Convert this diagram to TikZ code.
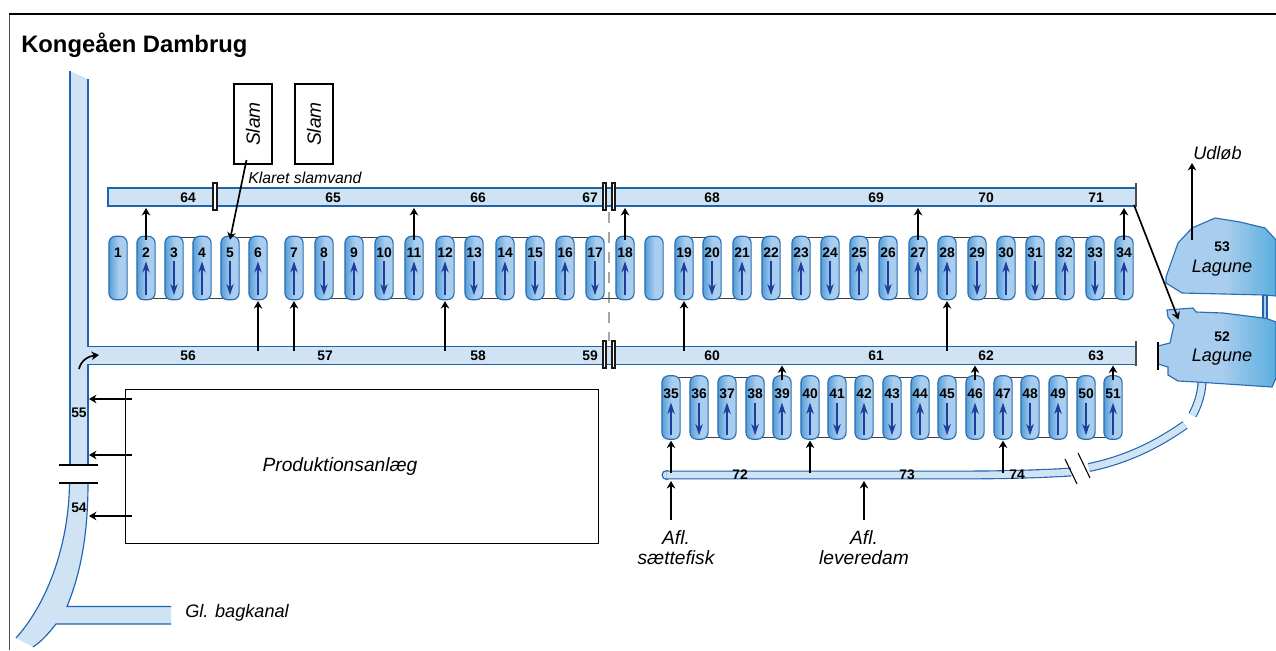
\documentclass[tikz,border=0pt]{standalone}
\usepackage{fontspec}
\setmainfont{Liberation Sans}
\usetikzlibrary{arrows.meta,backgrounds,calc}
\definecolor{canalfill}{HTML}{CFE3F4}
\definecolor{canalline}{HTML}{1F62AE}
\definecolor{pondline}{HTML}{2A6DB0}
\definecolor{pondmid}{HTML}{A9CDEE}
\definecolor{ponddark}{HTML}{559FDA}
\definecolor{lagdark}{HTML}{5AAEDF}
\definecolor{flowblue}{HTML}{1D3F9C}
\pgfdeclarehorizontalshading{pondshade}{100bp}{color(0bp)=(ponddark); color(25bp)=(ponddark); color(52bp)=(pondmid); color(100bp)=(pondmid)}
\pgfdeclarehorizontalshading{lagshade}{100bp}{color(0bp)=(pondmid); color(52bp)=(pondmid); color(75bp)=(lagdark); color(100bp)=(lagdark)}
\newcommand{\numfont}{\fontsize{10.4pt}{11pt}\selectfont\bfseries}
\newcommand{\itfont}{\fontsize{14.4pt}{15pt}\selectfont\itshape}
\newcommand{\itsmall}{\fontsize{13.6pt}{15pt}\selectfont\itshape}
\tikzset{
  pond/.style={draw=pondline,line width=0.85pt,shading=pondshade,rounded corners=5pt,minimum width=13.6pt,minimum height=47.6pt,inner sep=0pt},
  num/.style={inner sep=0pt,font=\numfont,text height=7.4pt,text depth=0pt},
  ital/.style={inner sep=0pt,font=\itfont,align=center},
  itals/.style={inner sep=0pt,font=\itsmall,align=center},
  canal/.style={fill=canalfill,draw=none},
  bank/.style={draw=canalline,line width=0.85pt},
  flow/.style={draw=black,line width=1.25pt,-{Stealth[length=5.6pt,width=6.4pt]}},
  bup/.style={{Stealth[length=8.5pt,width=5.6pt]}-},
  bdown/.style={-{Stealth[length=8.5pt,width=5.6pt]}},
  blueflow/.style={draw=flowblue,fill=flowblue,line width=0.9pt},
  link/.style={draw=black!75,line width=0.8pt},
  cut/.style={draw=black,line width=0.8pt},
  dbl/.style={draw=black!90,fill=white,line width=0.9pt},
  box/.style={draw=black,line width=0.85pt,fill=none},
  pipe/.style={draw=canalline,line width=0.85pt,double=canalfill,double distance=5pt},
  lagoon/.style={draw=pondline,line width=0.85pt,shading=lagshade},
}
\begin{document}
\begin{tikzpicture}[x=0.75pt,y=-0.75pt]
\useasboundingbox (0,0) rectangle (1276,650);
% frame
\draw[black!70,line width=1.3pt] (9.5,650) -- (9.5,14);
\draw[black,line width=1pt] (9,14) -- (1276,14);
\node[anchor=west,inner sep=0pt,font=\fontsize{17.85pt}{20pt}\selectfont\bfseries] (title) at (21,45) {Kongeåen Dambrug};

% water: main feeder
\fill[canal] (69.5,71) -- (88,79) -- (88,346.5) -- (1136,346.5) -- (1136,364.5) -- (88,364.5) -- (88,465) -- (69.5,465) -- cycle;
\fill[canal] (69.5,483) .. controls (69,540) and (50,600) .. (16,638) -- (33,647) .. controls (42,641) and (48,634) .. (56,624) -- (171,624) -- (171,606.5) -- (67,606.5) .. controls (82,570) and (88,530) .. (88,483) -- cycle;
\draw[bank] (70,71) -- (70,465);
\draw[bank] (88,79) -- (88,346.5) -- (1136,346.5);
\draw[bank] (1136,364.5) -- (88,364.5) -- (88,465);
\draw[bank] (69.5,483) .. controls (69,540) and (50,600) .. (16,638);
\draw[bank] (88,483) .. controls (88,530) and (82,570) .. (67,606.5) -- (171,606.5);
\draw[bank] (33,647) .. controls (42,641) and (48,634) .. (56,624) -- (171,624);
\coordinate (lowN) at (0,346.5);
\coordinate (lowS) at (0,364.5);
% upper canal
\path[canal,draw=canalline,line width=0.85pt] (108,188) rectangle (1136,206);
\coordinate (topS) at (0,206);
\draw[cut] (59,465) -- (98,465);
\draw[cut] (59,483) -- (98,483);
% breaks
\draw[dbl] (213,183) rectangle (217,210);
\draw[dbl] (603,183) rectangle (606,210);
\draw[dbl] (612,183) rectangle (615,210);
\draw[dbl] (603,341) rectangle (606,368);
\draw[dbl] (612,341) rectangle (615,368);
\draw[black!70,line width=1.1pt] (1136,183) -- (1136,206);
\draw[black!70,line width=1.1pt] (1136,341) -- (1136,366);
\begin{scope}[on background layer]
\draw[black!35,line width=1pt,dash pattern=on 8pt off 7pt] (609,212) -- (609,341);
\end{scope}

% canal numbers
\foreach \n/\x in {64/188,65/333,66/478,67/590,68/712,69/876,70/986,71/1096}{
  \node[num] (c\n) at (\x,198) {\n};}
\foreach \n/\x in {56/188,57/325,58/478,59/590,60/712,61/876,62/986,63/1096}{
  \node[num] (c\n) at (\x,355.5) {\n};}
\node[num] (c55) at (79,413) {55};
\node[num] (c54) at (79,508) {54};

% upper ponds
\foreach \n/\x in {1/118,2/146,3/174,4/202,5/230,6/258,7/294,8/324,9/354,10/384,11/414,12/445,13/474,14/505,15/535,16/565,17/595,18/625,19/684,20/712,21/742,22/771,23/801,24/830,25/859,26/888,27/918,28/947,29/977,30/1006,31/1035,32/1065,33/1095,34/1124}{
  \node[pond] (p\n) at (\x,268) {};
  \node[num] (l\n) at (\x,253) {\n};
}
\node[pond] (blank) at (654,268) {};
% lower ponds
\foreach \n/\x in {35/671,36/699,37/727,38/755,39/782,40/810,41/837,42/864,43/892,44/920,45/947,46/975,47/1003,48/1030,49/1058,50/1086,51/1113}{
  \node[pond] (p\n) at (\x,407.5) {};
  \node[num] (l\n) at (\x,393.5) {\n};
}
% flow arrows inside ponds
\foreach \n/\d in {2/bup,3/bdown,4/bup,5/bdown,6/bup,7/bup,8/bdown,9/bup,10/bdown,11/bup,12/bup,13/bdown,14/bup,15/bdown,16/bup,17/bdown,18/bup,19/bup,20/bdown,21/bup,22/bdown,23/bup,24/bdown,25/bup,26/bdown,27/bup,28/bup,29/bdown,30/bup,31/bdown,32/bup,33/bdown,34/bup}{
  \draw[blueflow,\d] ([yshift=-19.2pt]p\n.north) -- ([yshift=3.8pt]p\n.south);}
\foreach \n/\d in {35/bup,36/bdown,37/bup,38/bdown,39/bup,40/bup,41/bdown,42/bup,43/bdown,44/bup,45/bdown,46/bup,47/bup,48/bdown,49/bup,50/bdown,51/bup}{
  \draw[blueflow,\d] ([yshift=-20.6pt]p\n.north) -- ([yshift=3.4pt]p\n.south);}
% pond links
\begin{scope}[on background layer]
\foreach \a/\b in {3/4,5/6,7/8,9/10,12/13,14/15,16/17,19/20,21/22,23/24,25/26,28/29,30/31,32/33,35/36,37/38,41/42,43/44,45/46,47/48,49/50}{
  \draw[link] ([yshift=-1.6pt]p\a.north) -- ([yshift=-1.6pt]p\b.north);}
\foreach \a/\b in {2/3,4/5,8/9,10/11,13/14,15/16,17/18,20/21,22/23,24/25,26/27,29/30,31/32,33/34,36/37,38/39,40/41,42/43,44/45,48/49,50/51}{
  \draw[link] ([yshift=1.6pt]p\a.south) -- ([yshift=1.6pt]p\b.south);}
\end{scope}

% arrows pond -> upper canal
\foreach \n in {2,11,18,27,34}{
  \draw[flow] ([yshift=-3pt]p\n.north) -- ($(p\n.north |- topS)+(0,2)$);}
% arrows lower canal -> pond
\foreach \n in {6,7,12,19,28}{
  \draw[flow] ($(p\n.south |- lowN)+(0,4)$) -- ([yshift=-0.6pt]p\n.south);}
% lower ponds -> lower canal
\foreach \n in {39,46,51}{
  \draw[flow] ([yshift=-3.5pt]p\n.north) -- ($(p\n.north |- lowS)+(0,1)$);}

% outlet pipe
\draw[canalline,fill=canalfill,line width=0.85pt] (666.5,475) circle[radius=4.4];
\draw[pipe] (666.5,475) -- (960,475) .. controls (1000,475) and (1040,474) .. (1071,472);
\draw[pipe] (1089,467.5) .. controls (1125,460) and (1155,446) .. (1185,425);
\draw[pipe] (1202,381) .. controls (1202,392) and (1198,405) .. (1192.5,415);
\draw[cut] (1065,459) -- (1077,484);
\draw[cut] (1078,453) -- (1090,478);
\coordinate (pipeN) at (0,471);
\coordinate (pipeS) at (0,481);
\node[num] (c72) at (740,475) {72};
\node[num] (c73) at (907,475) {73};
\node[num] (c74) at (1017,475) {74};
\foreach \n in {35,40,47}{
  \draw[flow] ($(p\n.south |- pipeN)+(0,2)$) -- ([yshift=-0.6pt]p\n.south);}
\node[ital] (afl1) at (676,547.5) {Afl.\\sættefisk};
\node[ital] (afl2) at (864,547.5) {Afl.\\leveredam};
\coordinate (afl1t) at (671,520);
\coordinate (afl2t) at (864,520);
\draw[flow] (afl1t) -- (afl1t |- pipeS);
\draw[flow] (afl2t) -- (afl2t |- pipeS);

% curved arrow at junction
\coordinate (bendA) at (79,369);
\coordinate (bendB) at (99,355);
\draw[flow] (bendA) .. controls (81,360) and (89,356) .. (bendB);

% lagoons
\draw[draw=canalline,fill=pondmid,line width=0.85pt] (1263,295) rectangle (1267,320);
\path[lagoon] (1166,277) -- (1178,243) -- (1192,228) -- (1215,218) -- (1240,222) -- (1265,228) -- (1276,240) -- (1276,296) -- (1265,295) -- (1182,293) -- (1166,283) -- cycle;
\path[lagoon] (1167,310) -- (1193,308) -- (1196,312) -- (1223,313) -- (1263,318) -- (1268,319) -- (1276,322) -- (1276,378) -- (1272,387) -- (1197,382) -- (1178,381) -- (1168,375) -- (1168,367) -- (1158,364) -- (1158,346) -- (1170,343) -- (1174,325) -- (1168,317) -- cycle;
\draw[black,line width=1pt] (1158,342) -- (1158,370);
\node[num] (n53) at (1222,247) {53};
\node[itals] (t53) at (1222,268) {Lagune};
\node[num] (n52) at (1222,337) {52};
\node[itals] (t52) at (1222,357) {Lagune};
\coordinate (lag52in) at (1178.5,319.5);
\coordinate (c71end) at (1134,205);
\draw[flow] (c71end) -- (lag52in);
\coordinate (lag53out) at (1192,240);
\node[itals,anchor=west] (udlob) at (1193,153) {Udløb};
\coordinate (udtip) at (1192,163);
\draw[flow] (lag53out) -- (udtip);

% production
\node[box,minimum width=355pt,minimum height=115.5pt,inner sep=0pt] (prod) at (362,466.5) {};
\node[ital] (prodt) at (340,467) {Produktionsanlæg};
\foreach \y in {399,455,516}{
  \draw[flow] (132,\y) -- (89,\y);}

% slam
\node[box,minimum width=28.5pt,minimum height=60pt,inner sep=0pt] (slamA) at (253,124) {};
\node[box,minimum width=28.5pt,minimum height=60pt,inner sep=0pt] (slamB) at (314,124) {};
\node[ital,rotate=90] (slamAt) at (253,124) {Slam};
\node[ital,rotate=90] (slamBt) at (314,124) {Slam};
\node[anchor=west,inner sep=0pt,font=\fontsize{11.85pt}{13pt}\selectfont\itshape] (klaret) at (248,178) {Klaret slamvand};
\coordinate (slamout) at (246.5,160);
\draw[flow] (slamout) -- ([yshift=-3pt]p5.north);
\node[itals,anchor=west] (bag) at (185,612.5) {Gl. bagkanal};
\end{tikzpicture}
\end{document}
